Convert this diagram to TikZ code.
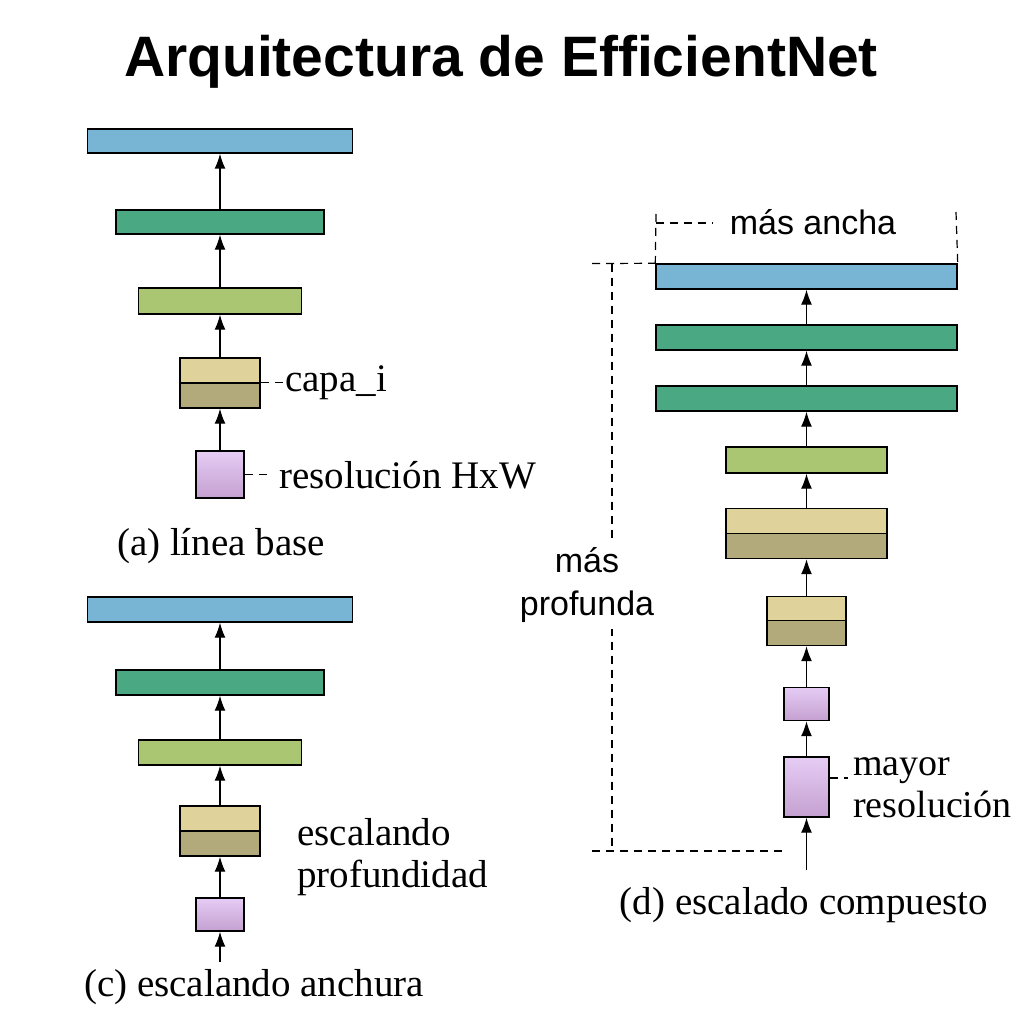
\documentclass[tikz,border=0pt]{standalone}
\usepackage{fontspec}
\setmainfont{Liberation Serif}
\setsansfont{Liberation Sans}
\usepackage{tikz}
\usetikzlibrary{arrows.meta, positioning, calc}
\definecolor{layerblue}{RGB}{120, 180, 211}
\definecolor{layergreen}{RGB}{74, 168, 130}
\definecolor{layerlime}{RGB}{171, 198, 115}
\definecolor{tanlight}{RGB}{224, 210, 155}
\definecolor{tandark}{RGB}{178, 170, 123}
\definecolor{purptop}{RGB}{230, 204, 245}
\definecolor{purpbot}{RGB}{196, 160, 208}

\tikzset{
    layer/.style={draw=black, line width=1.4pt, inner sep=0pt},
    bluelayer/.style={layer, fill=layerblue},
    greenlayer/.style={layer, fill=layergreen},
    limelayer/.style={layer, fill=layerlime},
    tantop/.style={layer, fill=tanlight},
    tanbot/.style={layer, fill=tandark},
    inputbox/.style={layer, top color=purptop, bottom color=purpbot},
    flow/.style={-{Latex[length=15pt,width=11pt]}, line width=1.4pt},
    guide/.style={dash pattern=on 8pt off 6pt, line width=1.2pt},
    seriflbl/.style={font=\fontsize{39}{42}\selectfont, inner sep=0pt},
    sanslbl/.style={font=\sffamily\fontsize{34}{43}\selectfont, inner sep=0pt}
}

\begin{document}
\begin{tikzpicture}[x=1pt, y=-1pt]
    \fill[white] (0,0) rectangle (1024,1024);
    \useasboundingbox (0,0) rectangle (1024,1024);

    \node[inner sep=0pt, font=\sffamily\bfseries\fontsize{57}{60}\selectfont] (title) at (501,62) {Arquitectura de EfficientNet};

    % (a) linea base
    \node[bluelayer, minimum width=265pt, minimum height=24pt] (a4) at (220,141) {};
    \node[greenlayer, minimum width=208pt, minimum height=24pt] (a3) at (220,222) {};
    \node[limelayer, minimum width=163pt, minimum height=26pt] (a2) at (220,301) {};
    \node[tantop, minimum width=80pt, minimum height=25pt] (a1t) at (220,370.5) {};
    \node[tanbot, minimum width=80pt, minimum height=25pt] (a1b) at (220,395.5) {};
    \node[inputbox, minimum width=48pt, minimum height=47pt] (a0) at (220,474.5) {};
    \draw[flow] (a0) -- (a1b);
    \draw[flow] (a1t) -- (a2);
    \draw[flow] (a2) -- (a3);
    \draw[flow] (a3) -- (a4);
    \node[seriflbl, anchor=base west] (capa) at (285,391) {capa\_i};
    \draw[guide] (a1b.north east) -- (a1b.north east -| capa.west);
    \node[seriflbl, anchor=base west] (res) at (279,488) {resolución HxW};
    \coordinate (a0d) at (267,474.5);
    \draw[guide] (a0.east) -- (a0d);
    \node[seriflbl, anchor=base] (albl) at (221,555) {(a) línea base};

    % (c) escalando anchura
    \node[bluelayer, minimum width=265pt, minimum height=25pt] (c4) at (220,609.5) {};
    \node[greenlayer, minimum width=208pt, minimum height=25pt] (c3) at (220,682.5) {};
    \node[limelayer, minimum width=163pt, minimum height=25pt] (c2) at (220,752.5) {};
    \node[tantop, minimum width=80pt, minimum height=25pt] (c1t) at (220,818.5) {};
    \node[tanbot, minimum width=80pt, minimum height=25pt] (c1b) at (220,843.5) {};
    \node[inputbox, minimum width=48pt, minimum height=33pt] (c0) at (220,914.5) {};
    \coordinate (cin) at (220,962);
    \draw[flow] (cin) -- (c0);
    \draw[flow] (c0) -- (c1b);
    \draw[flow] (c1t) -- (c2);
    \draw[flow] (c2) -- (c3);
    \draw[flow] (c3) -- (c4);
    \node[seriflbl, anchor=base west, align=left] (cdepth) at (297,887) {escalando\\profundidad};
    \node[seriflbl, anchor=base] (clbl) at (254,996) {(c) escalando anchura};

    % (d) escalado compuesto
    \node[bluelayer, minimum width=301pt, minimum height=25pt] (d6) at (806.5,276.5) {};
    \node[greenlayer, minimum width=301pt, minimum height=25pt] (d5) at (806.5,337.5) {};
    \node[greenlayer, minimum width=301pt, minimum height=25pt] (d4) at (806.5,398.5) {};
    \node[limelayer, minimum width=161pt, minimum height=26pt] (d3) at (806.5,460) {};
    \node[tantop, minimum width=161pt, minimum height=25pt] (d2t) at (806.5,521) {};
    \node[tanbot, minimum width=161pt, minimum height=25pt] (d2b) at (806.5,546) {};
    \node[tantop, minimum width=79pt, minimum height=24pt] (d1t) at (806.5,608.5) {};
    \node[tanbot, minimum width=79pt, minimum height=25pt] (d1b) at (806.5,633) {};
    \node[inputbox, minimum width=45pt, minimum height=33pt] (d0s) at (806.5,704) {};
    \node[inputbox, minimum width=45pt, minimum height=60pt] (d0) at (806.5,787) {};
    \coordinate (din) at (806.5,870);
    \draw[flow] (din) -- (d0);
    \draw[flow] (d0) -- (d0s);
    \draw[flow] (d0s) -- (d1b);
    \draw[flow] (d1t) -- (d2b);
    \draw[flow] (d2t) -- (d3);
    \draw[flow] (d3) -- (d4);
    \draw[flow] (d4) -- (d5);
    \draw[flow] (d5) -- (d6);

    % wider
    \node[sanslbl, anchor=base] (wide) at (813,235) {más ancha};
    \coordinate (wl) at (656,214);
    \coordinate (wr) at (956,212);
    \coordinate (wt) at (713,223);
    \draw[guide] (wl) -- (d6.north west);
    \draw[guide] (wr) -- (d6.north east);
    \draw[guide] (wl |- wt) -- (wt);

    % deeper
    \coordinate (dtl) at (592,263.5);
    \coordinate (dbl) at (592,851);
    \coordinate (dbr) at (783,851);
    \draw[guide] (dtl) -- (d6.north west);
    \draw[guide] (dbl) -- (dbr);
    \draw[guide] (612,263.5) -- (612,851);
    \node[sanslbl, fill=white, align=center, inner sep=6pt] (deep) at (587,585) {más\\profunda};

    % resolution
    \node[seriflbl, anchor=base west, align=left, font=\fontsize{38}{42}\selectfont] (dres) at (853,817) {mayor\\resolución};
    \coordinate (dresd) at (848,778);
    \draw[guide] (d0.east |- dresd) -- (dresd);
    \node[seriflbl, anchor=base] (dlbl) at (804,914) {(d) escalado compuesto};
\end{tikzpicture}
\end{document}
